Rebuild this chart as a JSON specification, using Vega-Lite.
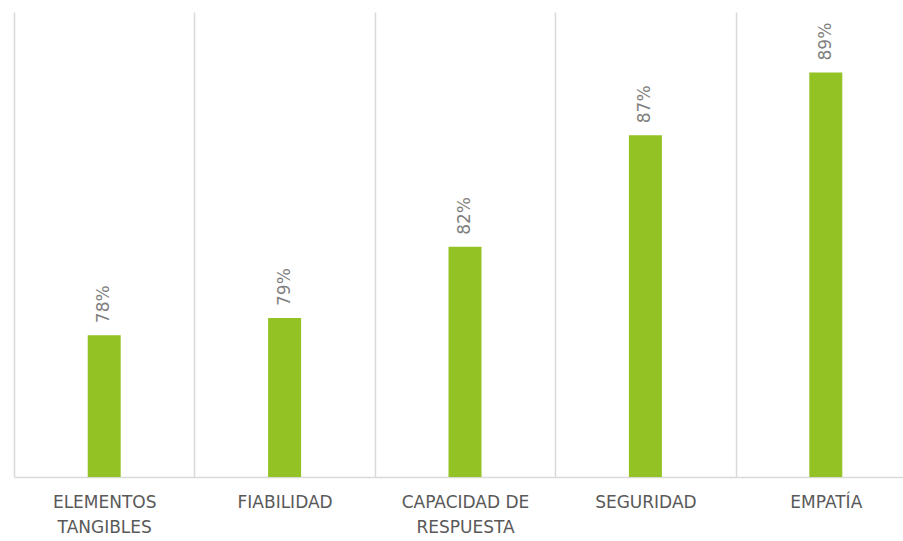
{
  "$schema": "https://vega.github.io/schema/vega-lite/v6.json",
  "autosize": {"type": "none"},
  "width": 889,
  "height": 465,
  "padding": {"left": 14, "top": 12, "right": 0, "bottom": 64},
  "background": "white",
  "config": {"view": {"stroke": null}},
  "data": {"values": [
    {"dimension": "ELEMENTOS TANGIBLES", "valor": 78.1, "etiqueta": "78%"},
    {"dimension": "FIABILIDAD", "valor": 78.84, "etiqueta": "79%"},
    {"dimension": "CAPACIDAD DE RESPUESTA", "valor": 81.9, "etiqueta": "82%"},
    {"dimension": "SEGURIDAD", "valor": 86.7, "etiqueta": "87%"},
    {"dimension": "EMPATÍA", "valor": 89.4, "etiqueta": "89%"}
  ]},
  "encoding": {
    "x": {
      "field": "dimension", "type": "nominal", "sort": null,
      "scale": {"range": [0, 902], "paddingInner": 0, "paddingOuter": 0},
      "axis": {
        "title": null, "labelAngle": 0, "grid": true, "tickBand": "extent",
        "gridColor": "#d9d9d9", "gridWidth": 1.5, "domainColor": "#d9d9d9", "domainWidth": 1.5,
        "ticks": false, "labelPadding": 17, "labelFont": "DejaVu Sans", "labelFontSize": 17,
        "labelColor": "#595959", "labelLineHeight": 25, "labelBaseline": "top",
        "labelExpr": "datum.value == 'ELEMENTOS TANGIBLES' ? ['ELEMENTOS','TANGIBLES'] : datum.value == 'CAPACIDAD DE RESPUESTA' ? ['CAPACIDAD DE','RESPUESTA'] : datum.value"
      }
    },
    "y": {
      "field": "valor", "type": "quantitative",
      "scale": {"domain": [72, 92], "zero": false},
      "axis": null
    }
  },
  "layer": [
    {"mark": {"type": "bar", "color": "#93C225", "size": 33, "clip": true}},
    {"mark": {"type": "text", "angle": 270, "align": "left", "baseline": "middle", "dx": 12, "font": "DejaVu Sans", "fontSize": 17, "color": "#7f7f7f"},
     "encoding": {"text": {"field": "etiqueta"}}}
  ]
}
